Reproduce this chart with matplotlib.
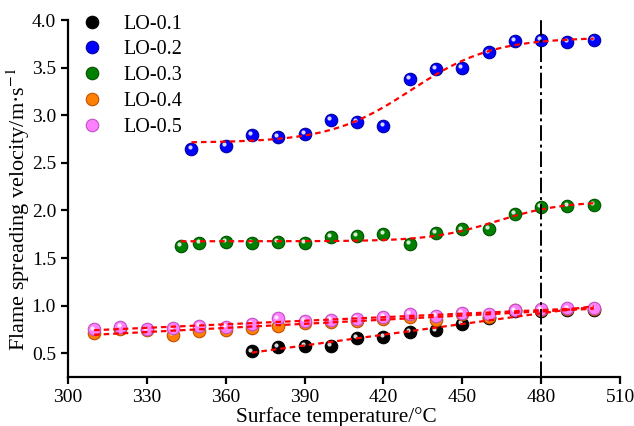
import numpy as np
import matplotlib
matplotlib.use("Agg")
import matplotlib.pyplot as plt
import matplotlib.transforms as mtransforms
from matplotlib.lines import Line2D
from matplotlib.legend_handler import HandlerTuple

plt.rcParams['font.family'] = ['Liberation Serif', 'DejaVu Serif']
plt.rcParams['mathtext.fontset'] = 'stix'

# data
t_01 = [370, 380, 390, 400, 410, 420, 430, 440, 450, 460, 470, 480, 490, 500]
v_01 = [0.52, 0.565, 0.58, 0.58, 0.66, 0.675, 0.72, 0.74, 0.81, 0.875, 0.94, 0.94, 0.95, 0.95]

t_02 = [347, 360, 370, 380, 390, 400, 410, 420, 430, 440, 450, 460, 470, 480, 490, 500]
v_02 = [2.65, 2.68, 2.79, 2.77, 2.80, 2.95, 2.93, 2.89, 3.38, 3.49, 3.50, 3.66, 3.78, 3.79, 3.77, 3.79]

t_03 = [343, 350, 360, 370, 380, 390, 400, 410, 420, 430, 440, 450, 460, 470, 480, 490, 500]
v_03 = [1.63, 1.66, 1.67, 1.66, 1.67, 1.66, 1.72, 1.73, 1.75, 1.645, 1.76, 1.80, 1.81, 1.96, 2.04, 2.05, 2.06]

t_045 = [310, 320, 330, 340, 350, 360, 370, 380, 390, 400, 410, 420, 430, 440, 450, 460, 470, 480, 490, 500]
v_04 = [0.71, 0.75, 0.74, 0.69, 0.73, 0.74, 0.77, 0.79, 0.82, 0.83, 0.84, 0.86, 0.88, 0.85, 0.91, 0.88, 0.95, 0.95, 0.96, 0.96]
v_05 = [0.75, 0.78, 0.75, 0.76, 0.79, 0.78, 0.81, 0.865, 0.84, 0.85, 0.86, 0.88, 0.91, 0.89, 0.92, 0.91, 0.95, 0.96, 0.97, 0.97]

labels = ["LO-0.1", "LO-0.2", "LO-0.3", "LO-0.4", "LO-0.5"]
colors = ["#000000", "#0000ff", "#008000", "#ff8000", "#ff80ff"]
edges = ["#000000", "#0000a0", "#005000", "#c05000", "#c050c0"]
line_x = 480


def boltzmann_fit(x, y):
    x = np.asarray(x, float)
    y = np.asarray(y, float)
    best = None
    for x0 in np.arange(380, 520, 0.5):
        for dx in np.arange(2, 50, 0.5):
            f = 1 / (1 + np.exp((x - x0) / dx))
            A = np.column_stack([f, 1 - f])
            coef, *_ = np.linalg.lstsq(A, y, rcond=None)
            sse = np.sum((A @ coef - y) ** 2)
            if best is None or sse < best[0]:
                best = (sse, x0, dx, coef)
    _, x0, dx, (a1, a2) = best
    return lambda xx: a2 + (a1 - a2) / (1 + np.exp((xx - x0) / dx))


fig = plt.figure(figsize=(6.34, 4.26), dpi=100)
ax = fig.add_axes([0.107, 0.115, 0.871, 0.838])

# fits
fit_kw = dict(color="red", ls=(0, (2.5, 1.8)), lw=1.6, zorder=3)
for t, v in [(t_01, v_01), (t_045, v_04), (t_045, v_05)]:
    p = np.polyfit(t, v, 1)
    xx = np.linspace(min(t), max(t), 50)
    ax.plot(xx, np.polyval(p, xx), **fit_kw)
for t, v in [(t_02, v_02), (t_03, v_03)]:
    fn = boltzmann_fit(t, v)
    xx = np.linspace(min(t), max(t), 300)
    ax.plot(xx, fn(xx), **fit_kw)

ax.axvline(line_x, color="black", ls=(0, (8, 2, 1.5, 2)), lw=1.4, zorder=4)

hl_off = mtransforms.offset_copy(ax.transData, fig=fig, x=-1.3, y=1.3, units='points')
handles = []
series = [(t_01, v_01), (t_02, v_02), (t_03, v_03), (t_045, v_04), (t_045, v_05)]
for (t, v), c, e, lab in zip(series, colors, edges, labels):
    ax.plot(t, v, 'o', ms=9, mfc=c, mec=e, mew=0.8, zorder=2)
    ax.plot(t, v, 'o', ms=3, mfc="white", mec="none", alpha=0.85,
            transform=hl_off, zorder=2)
    h1 = Line2D([], [], ls='none', marker='o', ms=9, mfc=c, mec=e, mew=0.8)
    h2 = Line2D([], [], ls='none', marker='o', ms=3, mfc="white", mec="none", alpha=0.85)
    handles.append((h1, h2))

ax.legend(handles, labels, handler_map={tuple: HandlerTuple(ndivide=None, pad=0)},
          loc="upper left", bbox_to_anchor=(0.01, 1.055), frameon=False,
          fontsize=14.5, handlelength=1.0, handletextpad=0.8, labelspacing=0.33,
          borderaxespad=0.3)

ax.set_xlim(300, 510)
ax.set_ylim(0.25, 4.0)
ax.set_xticks(np.arange(300, 511, 30))
ax.set_yticks(np.arange(0.5, 4.01, 0.5))
ax.yaxis.set_major_formatter(matplotlib.ticker.FormatStrFormatter('%.1f'))
ax.spines['top'].set_visible(False)
ax.spines['right'].set_visible(False)
for s in ['left', 'bottom']:
    ax.spines[s].set_linewidth(1.6)
ax.tick_params(direction='out', length=5, width=1.6, labelsize=14)

ax.set_xlabel("Surface temperature/\u00b0C", fontsize=15.3)
ax.set_ylabel("Flame spreading velocity/m\u00b7s$^{-1}$", fontsize=16)
ax.xaxis.set_label_coords(0.486, -0.085)
ax.yaxis.set_label_coords(-0.065, 0.47)

fig.savefig("out.png", dpi=100)
